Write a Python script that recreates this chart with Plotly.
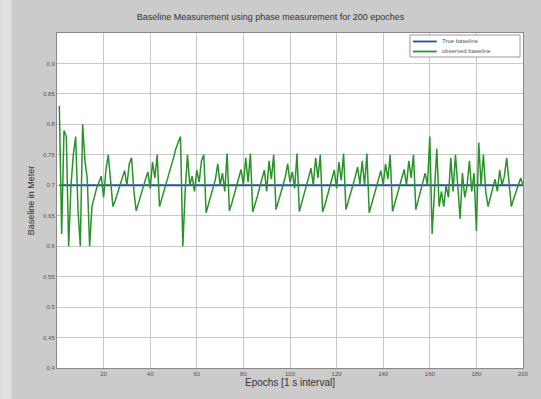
import plotly.graph_objects as go

epochs = list(range(1, 201))

observed = [
    0.83, 0.62, 0.79, 0.78, 0.60, 0.70, 0.75, 0.78, 0.66, 0.60,
    0.80, 0.74, 0.71, 0.60,
    0.665, 0.680, 0.695, 0.705, 0.715, 0.680, 0.725, 0.750, 0.700,
    0.665,
    0.675, 0.688, 0.700, 0.712, 0.724, 0.700, 0.735, 0.745, 0.690,
    0.658,
    0.670, 0.684, 0.697, 0.710, 0.722, 0.695, 0.738, 0.712, 0.750,
    0.665,
    0.678, 0.690, 0.703, 0.716, 0.730, 0.745, 0.760, 0.770, 0.780,
    0.600,
    0.690, 0.750, 0.700, 0.715, 0.690, 0.725, 0.705, 0.740, 0.750,
    0.655,
    0.668, 0.682, 0.696, 0.710, 0.735, 0.700, 0.720, 0.690, 0.752,
    0.658,
    0.670, 0.684, 0.698, 0.712, 0.726, 0.700, 0.745, 0.705, 0.752,
    0.656,
    0.668, 0.682, 0.697, 0.711, 0.725, 0.690, 0.740, 0.710, 0.750,
    0.660,
    0.672, 0.686, 0.700, 0.714, 0.735, 0.705, 0.722, 0.695, 0.752,
    0.657,
    0.670, 0.684, 0.698, 0.713, 0.728, 0.700, 0.745, 0.712, 0.750,
    0.656,
    0.668, 0.683, 0.697, 0.711, 0.725, 0.695, 0.738, 0.708, 0.752,
    0.660,
    0.672, 0.686, 0.700, 0.714, 0.730, 0.702, 0.740, 0.700, 0.752,
    0.655,
    0.668, 0.682, 0.696, 0.710, 0.724, 0.700, 0.735, 0.710, 0.750,
    0.657,
    0.670, 0.684, 0.698, 0.712, 0.726, 0.700, 0.740, 0.712, 0.750,
    0.660,
    0.675, 0.690, 0.705, 0.720, 0.700, 0.780,
    0.620,
    0.700, 0.760, 0.665, 0.690,
    0.665, 0.700, 0.680, 0.745, 0.690, 0.750, 0.700, 0.645, 0.720, 0.680,
    0.700, 0.740, 0.690, 0.720, 0.625, 0.770, 0.700, 0.750, 0.690, 0.665,
    0.680, 0.695, 0.710, 0.690, 0.725, 0.700, 0.715, 0.745, 0.700, 0.665,
    0.678, 0.690, 0.700, 0.712, 0.700,
]

true_baseline = [0.70] * 200

series_names = ["True baseline", "observed baseline"]
series_colors = ["#2a4f9c", "#2a922a"]

x_ticks = [20, 40, 60, 80, 100, 120, 140, 160, 180, 200]
y_ticks = [0.4, 0.45, 0.5, 0.55, 0.6, 0.65, 0.7, 0.75, 0.8, 0.85, 0.9]
y_tick_labels = ["0.4", "0.45", "0.5", "0.55", "0.6", "0.65", "0.7", "0.75", "0.8", "0.85", "0.9"]

fig = go.Figure()
fig.add_trace(go.Scatter(
    x=epochs, y=true_baseline, mode="lines", name=series_names[0],
    line=dict(color=series_colors[0], width=1.8),
))
fig.add_trace(go.Scatter(
    x=epochs, y=observed, mode="lines", name=series_names[1],
    line=dict(color=series_colors[1], width=1.5),
))

# compact legend box (drawn as annotations + shapes, like the original)
PW, PH = 470.0, 335.0
def px(xp):
    return (xp - 57) / PW
def py(yp):
    return (368 - yp) / PH

shapes = [
    dict(type="rect", xref="paper", yref="paper",
         x0=-57 / PW, x1=-46 / PW, y0=-31 / PH, y1=1 + 33 / PH,
         fillcolor="#e0e0e0", line=dict(width=0), layer="below"),
    dict(type="rect", xref="paper", yref="paper",
         x0=px(413), x1=px(524), y0=py(57), y1=py(35),
         fillcolor="#ffffff", line=dict(color="#9a9a9a", width=1), layer="above"),
]
annotations = []
for i, (name, col) in enumerate(zip(series_names, series_colors)):
    yrow = 41.5 + i * 10
    shapes.append(dict(type="line", xref="paper", yref="paper",
                       x0=px(416), x1=px(440), y0=py(yrow), y1=py(yrow),
                       line=dict(color=col, width=1.8), layer="above"))
    annotations.append(dict(xref="paper", yref="paper", x=px(443), y=py(yrow),
                            xanchor="left", yanchor="middle", showarrow=False,
                            text=name, font=dict(size=6, color="#555555")))

fig.update_layout(
    width=541, height=399,
    margin=dict(l=57, r=14, t=33, b=31),
    paper_bgcolor="#cbcbcb",
    plot_bgcolor="#ffffff",
    title=dict(
        text="Baseline Measurement using phase measurement for 200 epoches",
        x=0.5, xanchor="center", y=0.958, yanchor="middle",
        font=dict(family="Liberation Sans, Arial", size=9, color="#333333"),
    ),
    font=dict(family="Liberation Sans, Arial", color="#444444"),
    showlegend=False,
    shapes=shapes,
    annotations=annotations,
)

fig.update_xaxes(
    range=[0, 200], tickvals=x_ticks,
    showgrid=True, gridcolor="#c8c8c8", gridwidth=1,
    showline=True, linecolor="#8a8a8a", linewidth=1, mirror=True,
    ticks="", tickfont=dict(size=6, color="#555555"),
    zeroline=False,
    title=dict(text="Epochs [1 s interval]", font=dict(size=10, color="#333333"), standoff=2),
)
fig.update_yaxes(
    range=[0.4, 0.95], tickvals=y_ticks, ticktext=y_tick_labels,
    showgrid=True, gridcolor="#c8c8c8", gridwidth=1,
    showline=True, linecolor="#8a8a8a", linewidth=1, mirror=True,
    ticks="", tickfont=dict(size=6, color="#555555"),
    zeroline=False,
    title=dict(text="Baseline in Meter", font=dict(size=9, color="#333333"), standoff=6),
)

fig.write_html("out.html")
